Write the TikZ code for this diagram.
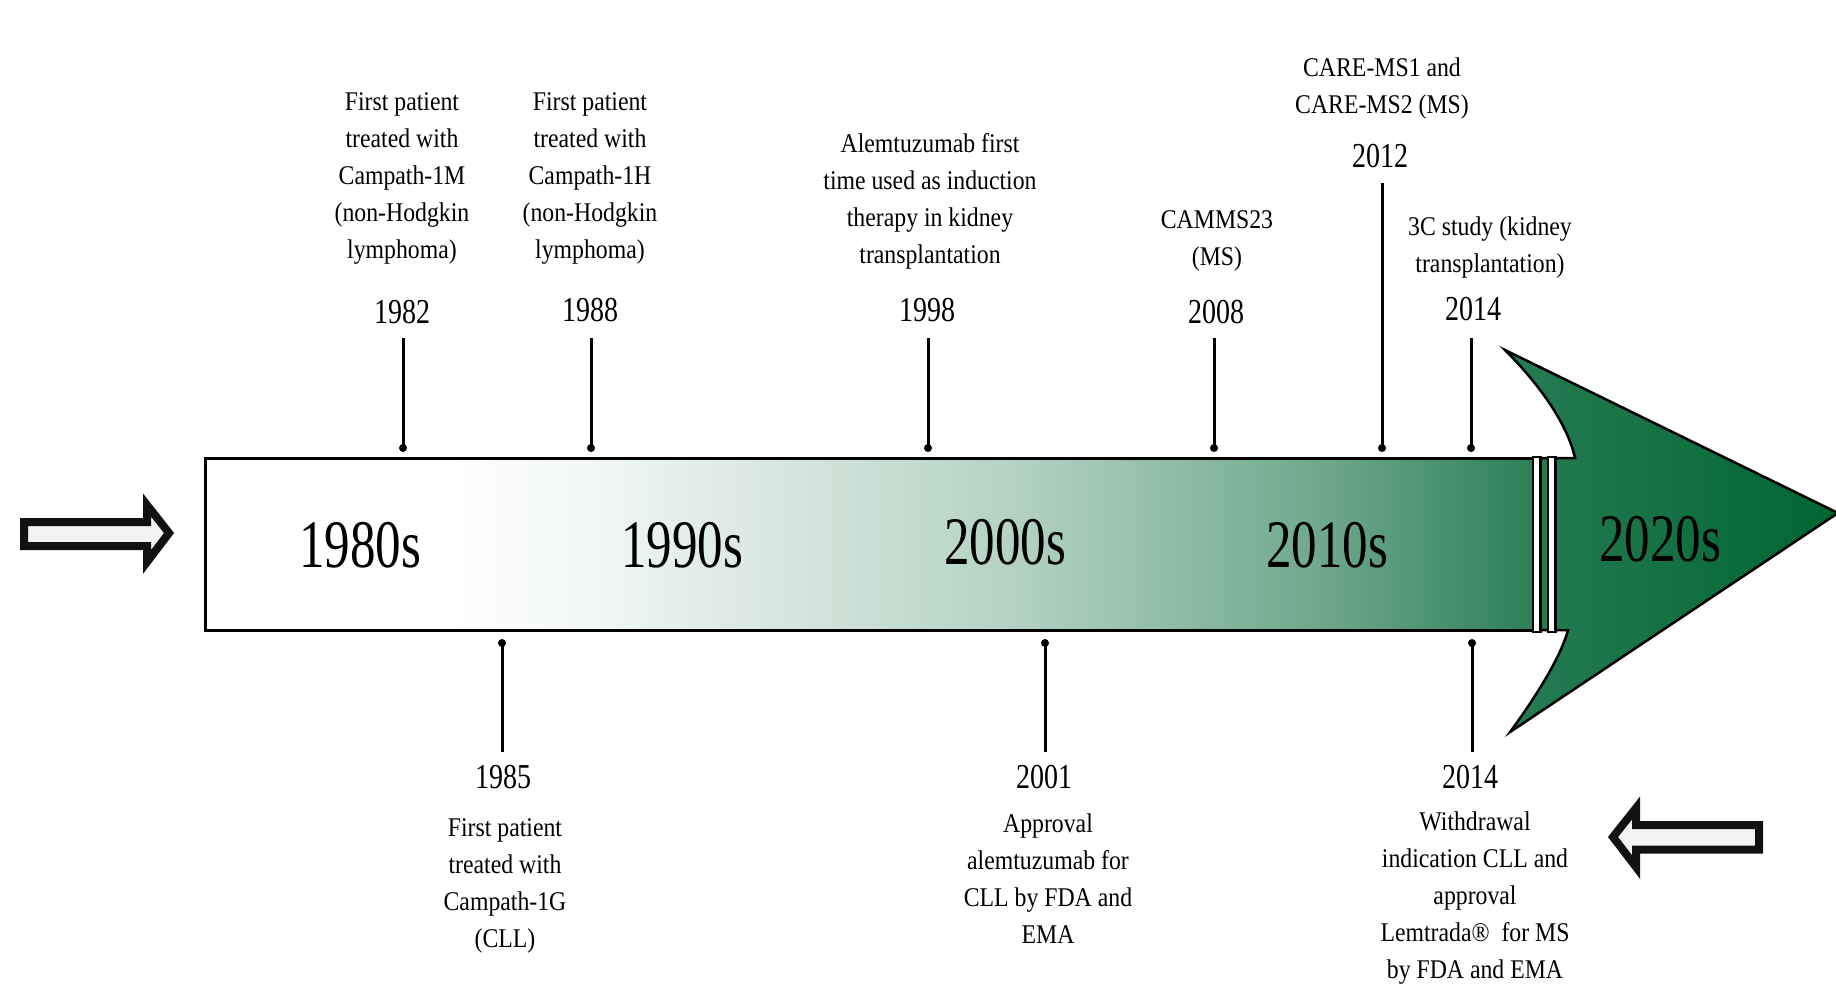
\documentclass[tikz,border=0pt]{standalone}
\usepackage{fontspec}
\setmainfont{Liberation Serif}
\newfontfamily\smallfont[FakeStretch=0.88]{Liberation Serif}
\newfontfamily\yearfont[FakeStretch=0.8]{Liberation Serif}
\newfontfamily\decfont[FakeStretch=0.75]{Liberation Serif}
\definecolor{boxEnd}{HTML}{2C8058}
\definecolor{headL}{HTML}{287C54}
\definecolor{headR}{HTML}{006530}
\definecolor{arrowFill}{HTML}{F2F2F2}
\definecolor{arrowLine}{HTML}{111111}
\colorlet{gA}{boxEnd!7!white}
\colorlet{gB}{boxEnd!35!white}
\colorlet{gC}{boxEnd!70!white}
\pgfdeclarehorizontalshading{boxshade}{100bp}{color(0bp)=(white); color(34.25bp)=(white); color(39.9bp)=(gA); color(55.2bp)=(gB); color(67.45bp)=(gC); color(75bp)=(boxEnd); color(100bp)=(boxEnd)}
\begin{document}
\begin{tikzpicture}[x=0.5pt,y=-0.5pt,
  small/.style={font=\smallfont\fontsize{13.5}{18.4}\selectfont, align=center, anchor=base, inner sep=0pt},
  yr/.style={font=\yearfont\fontsize{17.5}{20}\selectfont, anchor=base, inner sep=0pt},
  dec/.style={font=\decfont\fontsize{34}{40}\selectfont, anchor=base, inner sep=0pt},
  tick/.style={line width=1.5pt},
  hollow/.style={draw=arrowLine, fill=arrowFill, line width=4pt, miter limit=10}]
\useasboundingbox (0,0) rectangle (1836,986);

% main bar
\path[draw, line width=1.5pt, shading=boxshade] (205,458) rectangle (1533,630);
% arrow head
\path[draw, line width=1.25pt, left color=headL, right color=headR]
  (1533,458) -- (1575,458) .. controls (1567,422) and (1537,382) .. (1505,350)
  -- (1838,513) -- (1510,732) .. controls (1530,705) and (1560,660) .. (1568,630) -- (1533,630);
% double bars
\draw[line width=1.3pt, fill=white] (1533,457) rectangle (1540.5,632);
\draw[line width=1.3pt, fill=white] (1548,457) rectangle (1555.5,632);

% decades
\node[dec] (d80) at (360,567) {1980s};
\node[dec] (d90) at (682,567) {1990s};
\node[dec] (d00) at (1005,564) {2000s};
\node[dec] (d10) at (1327,567) {2010s};
\node[dec] (d20) at (1660,561) {2020s};

% hollow arrows
\path[hollow] (24,522) -- (147,522) -- (147,505) -- (169,533) -- (147,562) -- (147,546) -- (24,546) -- cycle;
\path[hollow] (1759,825) -- (1636,825) -- (1636,808) -- (1613,837) -- (1636,867) -- (1636,849.5) -- (1759,849.5) -- cycle;

% top events (node base = baseline of last line)
\node[small] (tA) at (402,258) {First patient\\treated with\\Campath-1M\\(non-Hodgkin\\lymphoma)};
\node[yr] (y1982) at (402,323) {1982};
\coordinate (s1982) at (403,338); \coordinate (e1982) at (403,448);

\node[small] (tB) at (590,258) {First patient\\treated with\\Campath-1H\\(non-Hodgkin\\lymphoma)};
\node[yr] (y1988) at (590,321) {1988};
\coordinate (s1988) at (591,338); \coordinate (e1988) at (591,448);

\node[small] (tC) at (930,263) {Alemtuzumab first\\time used as induction\\therapy in kidney\\transplantation};
\node[yr] (y1998) at (927,321) {1998};
\coordinate (s1998) at (928,338); \coordinate (e1998) at (928,448);

\node[small] (tD) at (1217,265) {CAMMS23\\(MS)};
\node[yr] (y2008) at (1216,323) {2008};
\coordinate (s2008) at (1214,338); \coordinate (e2008) at (1214,448);

\node[small] (tE) at (1382,113) {CARE-MS1 and\\CARE-MS2 (MS)};
\node[yr] (y2012) at (1380,167) {2012};
\coordinate (s2012) at (1382,183); \coordinate (e2012) at (1382,448);

\node[small] (tF) at (1490,272) {3C study (kidney\\transplantation)};
\node[yr] (y2014a) at (1473,320) {2014};
\coordinate (s2014a) at (1471,338); \coordinate (e2014a) at (1471,448);

% bottom events
\coordinate (e1985) at (502,643); \coordinate (s1985) at (502,752);
\node[yr] (y1985) at (503,788) {1985};
\node[small] (tG) at (505,947) {First patient\\treated with\\Campath-1G\\(CLL)};

\coordinate (e2001) at (1045,643); \coordinate (s2001) at (1045,752);
\node[yr] (y2001) at (1044,788) {2001};
\node[small] (tH) at (1048,943) {Approval\\alemtuzumab for\\CLL by FDA and\\EMA};

\coordinate (e2014b) at (1472,643); \coordinate (s2014b) at (1472,752);
\node[yr] (y2014b) at (1470,788) {2014};
\node[small] (tI) at (1475,978) {Withdrawal\\indication CLL and\\approval\\Lemtrada®~ for MS\\by FDA and EMA};

% ticks
\foreach \t in {1982,1988,1998,2008,2012,2014a,1985,2001,2014b}{
  \draw[tick] (s\t) -- (e\t);
  \fill (e\t) circle (2pt);
}
\end{tikzpicture}
\end{document}
